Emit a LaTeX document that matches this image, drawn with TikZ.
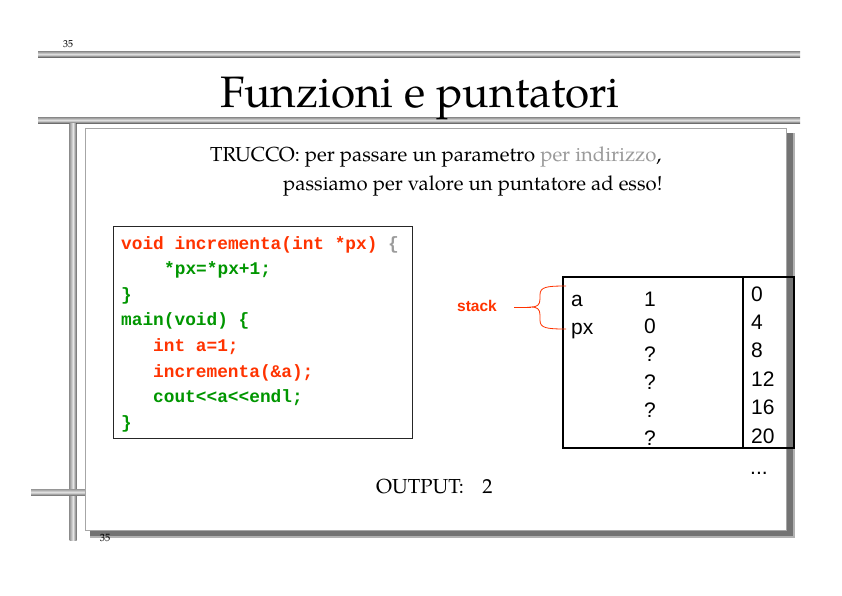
\documentclass[tikz,border=0pt]{standalone}
\usepackage{fontspec}
\setmainfont{texgyrepagella}[Extension=.otf, UprightFont=*-regular, BoldFont=*-bold]
\newfontfamily\codefont{Liberation Mono}
\newfontfamily\tabfont{Liberation Sans}
\definecolor{codered}{RGB}{255,51,0}
\definecolor{codegreen}{RGB}{0,150,0}
\definecolor{softgray}{RGB}{155,155,155}
\definecolor{rodgray}{RGB}{150,150,150}
\tikzset{
  hrod/.style={draw=none, top color=rodgray, bottom color=gray!85!black, middle color=gray!20},
  vrod/.style={draw=none, left color=rodgray, right color=gray!85!black, middle color=gray!20},
  codeline/.style={anchor=base west, inner sep=0pt, font=\codefont\bfseries\fontsize{17.8}{20}\selectfont},
  tabtext/.style={anchor=base west, inner sep=0pt, font=\tabfont\fontsize{21}{24}\selectfont},
  bodytext/.style={anchor=base west, inner sep=0pt, font=\fontsize{20.3}{24}\selectfont},
}
\begin{document}
\begin{tikzpicture}[x=1pt, y=-1pt]
\useasboundingbox (0,0) rectangle (842,595);
\fill[white] (0,0) rectangle (842,595);

% page number and rods
\node[inner sep=0pt, font=\fontsize{10}{12}\selectfont] (pnum) at (68,44) {35};
\fill[hrod] (38,51.5) rectangle (800,57);
\fill[hrod] (38,117.5) rectangle (800,123);
\fill[vrod] (69.5,123) rectangle (76.5,540);
\fill[hrod] (31,489) rectangle (85,495.5);

% title
\node[anchor=base, inner sep=0pt, font=\fontsize{44}{50}\selectfont] (title) at (420,107) {Funzioni e puntatori};

% slide panel with shadow
\fill[black!30] (90,133) rectangle (795,538);
\fill[black!55] (90,133) rectangle (792.5,535.5);
\filldraw[fill=white, draw=gray!70, line width=0.8pt] (85.5,128.5) rectangle (786.5,530);
\node[inner sep=0pt, font=\fontsize{10.5}{12}\selectfont] (pnumb) at (105,538) {35};

% statement
\node[bodytext] (trick1) at (210,161) {TRUCCO: per passare un parametro \textcolor{softgray}{per indirizzo},};
\node[bodytext] (trick2) at (283,190) {passiamo per valore un puntatore ad esso!};

% code box
\draw[line width=0.9pt, draw=black!85] (113,226) rectangle (412,438.5);
\node[codeline, text=codered]   (c1) at (121,249)   {void incrementa(int *px) \textcolor{softgray}{\{}};
\node[codeline, text=codegreen] (c2) at (164,274.6) {*px=*px+1;};
\node[codeline, text=codegreen] (c3) at (121,300.2) {\}};
\node[codeline, text=codegreen] (c4) at (121,325.8) {main(void) \{};
\node[codeline, text=codered]   (c5) at (153,351.4) {int a=1;};
\node[codeline, text=codered]   (c6) at (153,377)   {incrementa(\&a);};
\node[codeline, text=codegreen] (c7) at (153,402.6) {cout<{}<a<{}<endl;};
\node[codeline, text=codegreen] (c8) at (121,428.2) {\}};

% memory table
\draw[line width=1.6pt] (563,277) rectangle (794,448);
\draw[line width=1.6pt] (743,277) -- (743,448);
\node[tabtext] (va) at (571,306) {a};
\node[tabtext] (vpx) at (571,334) {px};
\foreach \v [count=\i from 0] in {1,0,?,?,?,?}
  \node[tabtext] (val\i) at (644,306+27.8*\i) {\v};
\foreach \a [count=\i from 0] in {0,4,8,12,16,20}
  \node[tabtext] (addr\i) at (751,301+28.4*\i) {\a};
\node[tabtext] (more) at (750,474) {...};

% stack brace
\node[inner sep=0pt, text=codered, font=\tabfont\bfseries\fontsize{15.5}{18}\selectfont] (stk) at (477,306) {stack};
\coordinate (btop) at (566,286);
\coordinate (bbot) at (566,329);
\coordinate (btip) at (531,307);
\coordinate (bend) at (514,307);
\draw[codered, line width=0.8pt]
  (btop) .. controls (546,286) and (540,287) .. (540,295)
  -- (540,299) .. controls (540,305) and (537,307) .. (btip)
  .. controls (537,307) and (540,309) .. (540,315)
  -- (540,320) .. controls (540,328) and (546,329) .. (bbot);
\draw[codered, line width=0.8pt] (bend) -- (btip);

% output
\node[bodytext] (out) at (376,493) {OUTPUT:\hspace{0.9em}2};
\end{tikzpicture}
\end{document}
